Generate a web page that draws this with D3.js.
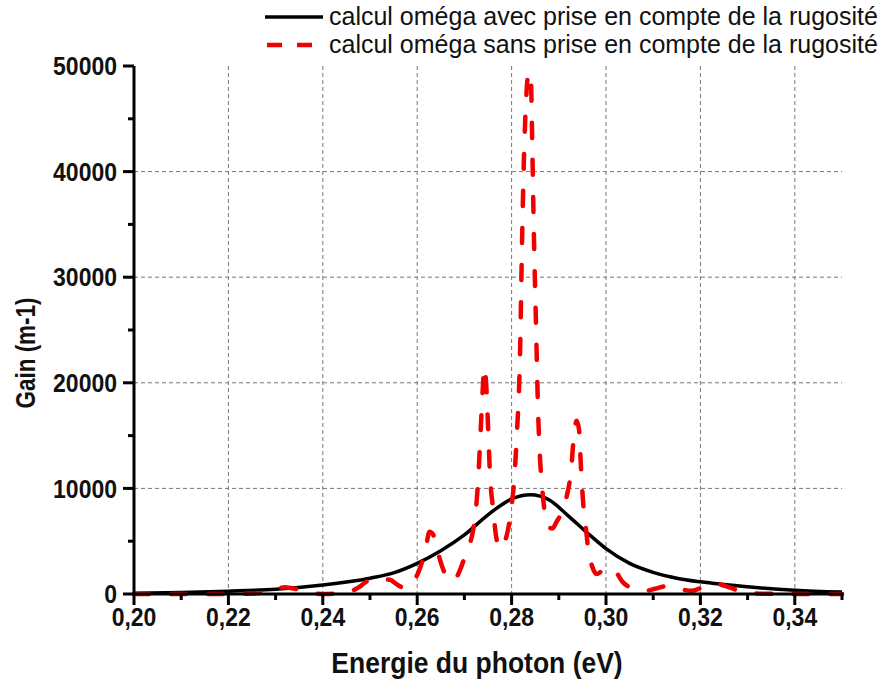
<!DOCTYPE html>
<html>
<head>
<meta charset="utf-8">
<script src="https://cdnjs.cloudflare.com/ajax/libs/d3/7.8.5/d3.min.js"></script>
<style>
  body { margin: 0; background: #fff; }
  text { font-family: "Liberation Sans", Arial, sans-serif; }
  .tick-label { font-weight: bold; font-size: 23px; fill: #111; }
  .axis-title { font-weight: bold; fill: #111; }
  .legend-label { font-size: 25px; fill: #111; }
  .grid line { stroke: #777; stroke-width: 1; stroke-dasharray: 4,3; }
</style>
</head>
<body>
<div id="chart"></div>
<script>
// Energie du photon (eV) / gain (m-1) : calcul avec rugosité
const energyWith = [0.200, 0.210, 0.220, 0.230, 0.240, 0.250, 0.255, 0.260, 0.265, 0.270,
  0.275, 0.280, 0.284, 0.288, 0.292, 0.296, 0.300, 0.305, 0.310, 0.315, 0.320, 0.330, 0.340, 0.350];
const gainWith = [80, 150, 270, 450, 850, 1500, 2000, 2900, 4100, 5600,
  7500, 9000, 9400, 8900, 7400, 5800, 4300, 2900, 2050, 1500, 1150, 680, 360, 180];

// calcul sans rugosité
const energyWithout = [0.200, 0.210, 0.220, 0.226, 0.229, 0.232, 0.235, 0.238, 0.2405, 0.243,
  0.2453, 0.2475, 0.2494, 0.2515, 0.2542, 0.2559, 0.2574, 0.2589, 0.2602, 0.2612,
  0.2620, 0.2626, 0.2633, 0.2640, 0.2650, 0.2660, 0.2670, 0.2680, 0.2691, 0.2705,
  0.2716, 0.2724, 0.2729, 0.2735, 0.2739, 0.2742, 0.2746, 0.2750, 0.2754, 0.2761,
  0.2767, 0.2773, 0.2780, 0.2786, 0.2792, 0.2799, 0.2805, 0.2811, 0.2818, 0.2822,
  0.2826, 0.2831, 0.2836, 0.2841, 0.2844, 0.2847, 0.2852, 0.2856, 0.2860, 0.2864,
  0.2871, 0.2877, 0.2886, 0.2896, 0.2907, 0.2917, 0.2926, 0.2932, 0.2938, 0.2943,
  0.2947, 0.2951, 0.2958, 0.2962, 0.2970, 0.2981, 0.2994, 0.3006, 0.3019, 0.3036,
  0.3055, 0.3083, 0.3104, 0.3129, 0.3157, 0.3182, 0.3210, 0.3235, 0.3263, 0.3294,
  0.3337, 0.340, 0.350];
const gainWithout = [0, 0, 0, 60, 300, 650, 400, 80, 0, 40,
  150, 600, 1200, 1450, 1350, 850, 550, 1000, 2000, 3300,
  4800, 5900, 5700, 4600, 3000, 1800, 1250, 1400, 2300, 4100,
  5500, 7800, 10700, 16000, 19500, 21500, 20000, 16000, 11500, 8000,
  5500, 4500, 4300, 5000, 6000, 8000, 10500, 15000, 23000, 33000,
  41000, 47000, 49400, 48500, 42000, 34500, 25000, 17500, 13000, 10500,
  7500, 6450, 6200, 6900, 7800, 9300, 11700, 15000, 16400, 15500,
  12000, 9000, 6000, 4400, 2700, 1900, 2300, 2500, 2200, 1100,
  550, 300, 500, 750, 450, 300, 750, 950, 600, 150,
  20, 0, 0];

const xMajorTicks = [0.20, 0.22, 0.24, 0.26, 0.28, 0.30, 0.32, 0.34];
const xMinorTicks = [0.21, 0.23, 0.25, 0.27, 0.29, 0.31, 0.33, 0.35];
const yMajorTicks = [0, 10000, 20000, 30000, 40000, 50000];
const yMinorTicks = [5000, 15000, 25000, 35000, 45000];
const xGridTicks = [0.22, 0.24, 0.26, 0.28, 0.30, 0.32, 0.34];
const yGridTicks = [10000, 20000, 30000, 40000];

const legendLabels = [
  "calcul oméga avec prise en compte de la rugosité",
  "calcul oméga sans prise en compte de la rugosité"
];

class GainChart {

  constructor(_config) {
    this.config = {
      parentElement: _config.parentElement,
      containerWidth: 885,
      containerHeight: 684
    };
    this.config.margin = { top: 66, bottom: 90, right: 43, left: 134 };
    this.initVis();
  }

  initVis() {
    let vis = this;
    let m = vis.config.margin;
    vis.width = vis.config.containerWidth - m.left - m.right;
    vis.height = vis.config.containerHeight - m.top - m.bottom;

    vis.svg = d3.select(vis.config.parentElement).append("svg")
        .attr("width", vis.config.containerWidth)
        .attr("height", vis.config.containerHeight);

    vis.chart = vis.svg.append("g")
        .attr("transform", "translate(" + m.left + "," + m.top + ")");

    vis.xScale = d3.scaleLinear().domain([0.20, 0.35]).range([0, vis.width]);
    vis.yScale = d3.scaleLinear().domain([0, 50000]).range([vis.height, 0]);

    vis.line = d3.line()
        .x(d => vis.xScale(d[0]))
        .y(d => vis.yScale(d[1]))
        .curve(d3.curveMonotoneX);

    vis.updateVis();
  }

  updateVis() {
    let vis = this;
    let fmtX = d3.format(".2f");

    // grid
    vis.chart.append("g").attr("class", "grid")
      .selectAll("line").data(xGridTicks).join("line")
        .attr("x1", d => vis.xScale(d)).attr("x2", d => vis.xScale(d))
        .attr("y1", 0).attr("y2", vis.height);
    vis.chart.append("g").attr("class", "grid")
      .selectAll("line").data(yGridTicks).join("line")
        .attr("x1", 0).attr("x2", vis.width)
        .attr("y1", d => vis.yScale(d)).attr("y2", d => vis.yScale(d));

    // curves
    vis.chart.append("path")
        .datum(d3.zip(energyWith, gainWith))
        .attr("fill", "none")
        .attr("stroke", "#000")
        .attr("stroke-width", 3.5)
        .attr("d", vis.line);

    vis.chart.append("path")
        .datum(d3.zip(energyWithout, gainWithout))
        .attr("fill", "none")
        .attr("stroke", "#f00000")
        .attr("stroke-width", 4.5)
        .attr("stroke-linecap", "round")
        .attr("stroke-dasharray", "15,22")
        .attr("d", vis.line);

    // axes
    let xAxis = vis.chart.append("g").attr("transform", "translate(0," + vis.height + ")");
    xAxis.append("line").attr("x1", -1.5).attr("x2", vis.width + 1.5)
        .attr("stroke", "#000").attr("stroke-width", 3);
    xAxis.selectAll(".major").data(xMajorTicks).join("line").attr("class", "major")
        .attr("x1", d => vis.xScale(d)).attr("x2", d => vis.xScale(d))
        .attr("y1", 0).attr("y2", 11)
        .attr("stroke", "#000").attr("stroke-width", 3);
    xAxis.selectAll(".minor").data(xMinorTicks).join("line").attr("class", "minor")
        .attr("x1", d => vis.xScale(d)).attr("x2", d => vis.xScale(d))
        .attr("y1", 0).attr("y2", 6)
        .attr("stroke", "#000").attr("stroke-width", 3);
    xAxis.selectAll(".tick-label").data(xMajorTicks).join("text").attr("class", "tick-label")
        .attr("transform", d => "translate(" + vis.xScale(d) + ",32) scale(1,1.12)")
        .attr("text-anchor", "middle")
        .text(d => fmtX(d).replace(".", ","));

    let yAxis = vis.chart.append("g");
    yAxis.append("line").attr("y1", 0).attr("y2", vis.height + 1.5)
        .attr("stroke", "#000").attr("stroke-width", 3);
    yAxis.selectAll(".major").data(yMajorTicks).join("line").attr("class", "major")
        .attr("y1", d => vis.yScale(d)).attr("y2", d => vis.yScale(d))
        .attr("x1", 0).attr("x2", -11)
        .attr("stroke", "#000").attr("stroke-width", 3);
    yAxis.selectAll(".minor").data(yMinorTicks).join("line").attr("class", "minor")
        .attr("y1", d => vis.yScale(d)).attr("y2", d => vis.yScale(d))
        .attr("x1", 0).attr("x2", -6)
        .attr("stroke", "#000").attr("stroke-width", 3);
    yAxis.selectAll(".tick-label").data(yMajorTicks).join("text").attr("class", "tick-label")
        .attr("transform", d => "translate(-17," + vis.yScale(d) + ") scale(1,1.12)")
        .attr("dy", "0.36em")
        .attr("text-anchor", "end")
        .text(d => d);

    // axis titles
    vis.svg.append("text").attr("class", "axis-title")
        .attr("transform", "translate(477,673) scale(1,1.1)")
        .attr("font-size", "26.5px")
        .attr("text-anchor", "middle")
        .text("Energie du photon (eV)");
    vis.svg.append("text").attr("class", "axis-title")
        .attr("transform", "translate(35,353) rotate(-90) scale(1,1.22)")
        .attr("font-size", "22.5px")
        .attr("text-anchor", "middle")
        .text("Gain (m-1)");

    // legend
    let legend = vis.svg.append("g");
    legend.append("line").attr("x1", 265).attr("x2", 323).attr("y1", 17).attr("y2", 17)
        .attr("stroke", "#000").attr("stroke-width", 3.5);
    legend.append("line").attr("x1", 267).attr("x2", 322).attr("y1", 45).attr("y2", 45)
        .attr("stroke", "#f00000").attr("stroke-width", 4.5)
        .attr("stroke-dasharray", "15,15");
    legend.selectAll(".legend-label").data(legendLabels).join("text").attr("class", "legend-label")
        .attr("x", 329).attr("y", (d, i) => 25 + i * 28)
        .text(d => d);
  }
}

let gainChart = new GainChart({ parentElement: "#chart" });
</script>
</body>
</html>
